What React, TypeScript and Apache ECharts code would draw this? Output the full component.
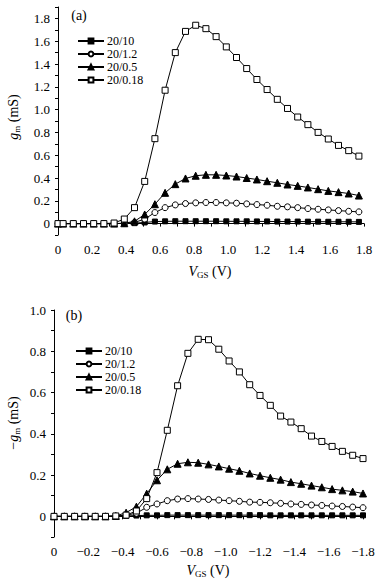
import React, { useEffect, useRef } from "react";
import * as echarts from "echarts";

const seriesNames = ["20/10", "20/1.2", "20/0.5", "20/0.18"];

// (a) NMOS, VGS in V
const vgsA = [0, 0.03, 0.09, 0.15, 0.21, 0.27, 0.33, 0.39, 0.45, 0.51, 0.57, 0.63, 0.69, 0.75, 0.81, 0.87, 0.93, 0.99, 1.05, 1.11, 1.17, 1.23, 1.29, 1.35, 1.41, 1.47, 1.53, 1.59, 1.65, 1.71, 1.77];
const gmA_10 = [0, 0, 0, 0, 0, 0, 0, 0.002, 0.004, 0.01, 0.018, 0.02, 0.021, 0.021, 0.021, 0.021, 0.021, 0.02, 0.02, 0.02, 0.019, 0.019, 0.018, 0.018, 0.018, 0.017, 0.017, 0.016, 0.016, 0.016, 0.015];
const gmA_12 = [0, 0, 0, 0, 0, 0, 0, 0.002, 0.01, 0.04, 0.097, 0.14, 0.164, 0.176, 0.182, 0.185, 0.185, 0.182, 0.179, 0.173, 0.167, 0.161, 0.152, 0.147, 0.14, 0.132, 0.126, 0.12, 0.114, 0.108, 0.103];
const gmA_05 = [0, 0, 0, 0, 0, 0, 0, 0.003, 0.02, 0.08, 0.17, 0.27, 0.346, 0.396, 0.42, 0.428, 0.428, 0.422, 0.413, 0.4, 0.387, 0.372, 0.358, 0.343, 0.331, 0.317, 0.302, 0.287, 0.276, 0.264, 0.246];
const gmA_018 = [0, 0, 0, 0, 0, 0, 0.005, 0.04, 0.14, 0.37, 0.745, 1.17, 1.5, 1.686, 1.74, 1.71, 1.64, 1.55, 1.457, 1.36, 1.264, 1.176, 1.09, 1.01, 0.935, 0.868, 0.8, 0.742, 0.686, 0.64, 0.592];

// (b) PMOS, VGS in V (negative)
const vgsB = [0, -0.06, -0.12, -0.18, -0.24, -0.3, -0.36, -0.42, -0.48, -0.54, -0.6, -0.66, -0.72, -0.78, -0.84, -0.9, -0.96, -1.02, -1.08, -1.14, -1.2, -1.26, -1.32, -1.38, -1.44, -1.5, -1.56, -1.62, -1.68, -1.74, -1.8];
const gmB_10 = [0, 0, 0, 0, 0, 0, 0, 0.002, 0.004, 0.005, 0.005, 0.006, 0.006, 0.006, 0.006, 0.006, 0.006, 0.006, 0.006, 0.006, 0.006, 0.005, 0.005, 0.005, 0.005, 0.005, 0.005, 0.005, 0.005, 0.005, 0.005];
const gmB_12 = [0, 0, 0, 0, 0, 0, 0.001, 0.006, 0.015, 0.044, 0.06, 0.076, 0.084, 0.086, 0.084, 0.082, 0.079, 0.076, 0.073, 0.069, 0.068, 0.066, 0.063, 0.06, 0.058, 0.055, 0.053, 0.05, 0.048, 0.045, 0.042];
const gmB_05 = [0, 0, 0, 0, 0, 0, 0.002, 0.018, 0.047, 0.11, 0.175, 0.228, 0.255, 0.262, 0.26, 0.252, 0.242, 0.231, 0.221, 0.208, 0.197, 0.187, 0.178, 0.166, 0.158, 0.149, 0.141, 0.132, 0.126, 0.12, 0.111];
const gmB_018 = [0, 0, 0, 0, 0, 0, 0.002, 0.006, 0.026, 0.086, 0.212, 0.417, 0.633, 0.79, 0.858, 0.856, 0.81, 0.753, 0.7, 0.638, 0.586, 0.538, 0.486, 0.457, 0.425, 0.389, 0.363, 0.339, 0.315, 0.296, 0.28];

const FONT = "'Liberation Serif', 'DejaVu Serif', serif";

const symbols = [
  { symbol: "rect", size: 5, fill: "#000" },
  { symbol: "circle", size: 6, fill: "#fff" },
  { symbol: "triangle", size: 7, fill: "#000" },
  { symbol: "rect", size: 6, fill: "#fff" },
];

function labelFmt(v: number, neg: boolean) {
  const k = Math.round(v * 10);
  if (k % 2 !== 0) return "";
  if (k === 0) return "0";
  const s = (Math.abs(k) / 10).toFixed(1);
  return neg && k < 0 ? "\u2212" + s : s;
}

export default function App() {
  const ref = useRef<HTMLDivElement>(null);
  useEffect(() => {
    document.body.style.margin = "0";
    if (!ref.current) return;
    const chart = echarts.init(ref.current, undefined, { renderer: "svg" });

    const axisCommon = {
      axisLine: { show: true, lineStyle: { color: "#000", width: 1 } },
      axisTick: { show: true, inside: false, length: 3, lineStyle: { color: "#000" } },
      splitLine: { show: false },
      axisLabel: { color: "#000", fontFamily: FONT, fontSize: 13, margin: 8 },
    };

    const mk = (gridIndex: number, xs: number[], ys: number[][]) =>
      ys.map((vals, i) => ({
        type: "line",
        name: seriesNames[i],
        xAxisIndex: gridIndex,
        yAxisIndex: gridIndex,
        data: xs.map((x, j) => [x, vals[j]]),
        symbol: symbols[i].symbol,
        symbolSize: symbols[i].size,
        showAllSymbol: true,
        lineStyle: { color: "#000", width: 1 },
        itemStyle: { color: symbols[i].fill, borderColor: "#000", borderWidth: 1 },
        z: 2 + i,
      }));

    const legendCommon = {
      orient: "vertical",
      itemWidth: 26,
      itemHeight: 6,
      itemGap: 1,
      textStyle: { color: "#000", fontFamily: FONT, fontSize: 12, lineHeight: 12, padding: [0, 0, 0, -2] },
      data: seriesNames,
      selectedMode: false,
    };

    const txt = (x: number, y: number, text: string, rich: any, rotation = 0) => ({
      type: "text",
      x,
      y,
      rotation,
      style: {
        text,
        fill: "#000",
        fontFamily: FONT,
        fontSize: 13,
        align: "center",
        verticalAlign: "middle",
        rich,
      },
    });

    const rich = {
      n: { fontFamily: FONT, fontSize: 14, lineHeight: 16, fill: "#000" },
      i: { fontFamily: FONT, fontSize: 14, fontStyle: "italic", lineHeight: 16, fill: "#000" },
      s: { fontFamily: FONT, fontSize: 9, lineHeight: 10, verticalAlign: "bottom", fill: "#000" },
    };

    chart.setOption({
      animation: false,
      backgroundColor: "#fff",
      grid: [
        { left: 58, right: 21, top: 7, height: 228 },
        { left: 54, right: 22, top: 310, height: 227 },
      ],
      xAxis: [
        {
          ...axisCommon,
          type: "value",
          gridIndex: 0,
          min: 0,
          max: 1.8,
          interval: 0.1,
          axisLabel: { ...axisCommon.axisLabel, formatter: (v: number) => labelFmt(v, false) },
        },
        {
          ...axisCommon,
          type: "value",
          gridIndex: 1,
          min: -1.8,
          max: 0,
          interval: 0.1,
          inverse: true,
          axisLabel: { ...axisCommon.axisLabel, formatter: (v: number) => labelFmt(v, true) },
        },
      ],
      yAxis: [
        {
          ...axisCommon,
          type: "value",
          gridIndex: 0,
          min: -0.1,
          max: 1.9,
          interval: 0.1,
          axisLabel: { ...axisCommon.axisLabel, formatter: (v: number) => labelFmt(v, false) },
        },
        {
          ...axisCommon,
          type: "value",
          gridIndex: 1,
          min: -0.1,
          max: 1.0,
          interval: 0.1,
          axisLabel: { ...axisCommon.axisLabel, formatter: (v: number) => labelFmt(v, false) },
        },
      ],
      legend: [
        { ...legendCommon, left: 72, top: 30 },
        { ...legendCommon, left: 70, top: 340 },
      ],
      graphic: [
        txt(79, 15, "{n|(a)}", rich),
        txt(74, 315, "{n|(b)}", rich),
        txt(13, 117, "{i|g}{s|m}{n| (mS)}", rich, Math.PI / 2),
        txt(13, 423, "{n|\u2212}{i|g}{s|m}{n| (mS)}", rich, Math.PI / 2),
        txt(210, 271, "{i|V}{s|GS}{n| (V)}", rich),
        txt(208, 570, "{i|V}{s|GS}{n| (V)}", rich),
      ],
      series: [
        ...mk(0, vgsA, [gmA_10, gmA_12, gmA_05, gmA_018]),
        ...mk(1, vgsB, [gmB_10, gmB_12, gmB_05, gmB_018]),
      ],
    });
    return () => chart.dispose();
  }, []);
  return <div ref={ref} style={{ width: 385, height: 585 }} />;
}
